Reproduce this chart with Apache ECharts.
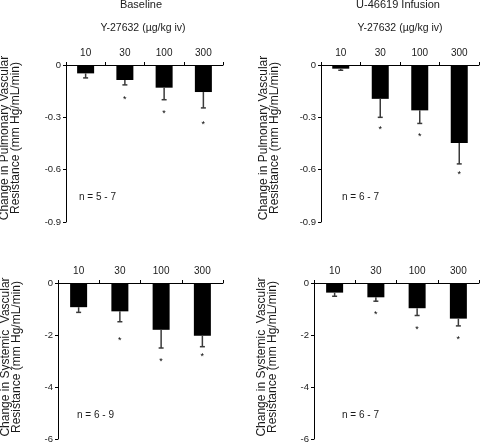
<!DOCTYPE html>
<html>
<head>
<meta charset="utf-8">
<script src="https://cdn.jsdelivr.net/npm/echarts@6/dist/echarts.min.js"></script>
<style>html,body{margin:0;padding:0;background:#fff}#c{width:480px;height:444px}</style>
</head>
<body>
<div id="c"></div>
<script>
const categories = ['10', '30', '100', '300'];
const panelTitles = ['Baseline', 'U-46619 Infusion'];
const drugLabel = 'Y-27632 (µg/kg iv)';
const pvrName = 'Change in Pulmonary Vascular\nResistance (mm Hg/mL/min)';
const svrName = 'Change in Systemic  Vascular\nResistance (mm Hg/mL/min)';

// Pulmonary vascular resistance, baseline
const pvrBaseline = [-0.048, -0.086, -0.130, -0.155];
const pvrBaselineErr = [0.026, 0.028, 0.069, 0.091];
const pvrBaselineStar = [null, -0.187, -0.267, -0.329];
// Pulmonary vascular resistance, U-46619 infusion
const pvrInfusion = [-0.021, -0.194, -0.260, -0.447];
const pvrInfusionErr = [0.009, 0.106, 0.075, 0.120];
const pvrInfusionStar = [null, -0.356, -0.396, -0.619];
// Systemic vascular resistance, baseline
const svrBaseline = [-0.93, -1.09, -1.80, -2.03];
const svrBaselineErr = [0.20, 0.40, 0.70, 0.42];
const svrBaselineStar = [null, -2.14, -2.94, -2.75];
// Systemic vascular resistance, U-46619 infusion
const svrInfusion = [-0.37, -0.55, -0.97, -1.37];
const svrInfusionErr = [0.14, 0.15, 0.28, 0.28];
const svrInfusionStar = [null, -1.13, -1.71, -2.10];

const nLabels = ['n = 5 - 7', 'n = 6 - 7', 'n = 6 - 9', 'n = 6 - 7'];
const pvrTicks = {min: -0.9, max: 0, interval: 0.3};
const svrTicks = {min: -6, max: 0, interval: 2};

const FONT = 'Liberation Sans, Arial, sans-serif';
const TXT = '#1a1a1a';

const panels = [
  {grid: {left: 66, top: 65, width: 157, height: 157}, vals: pvrBaseline, err: pvrBaselineErr, star: pvrBaselineStar, ticks: pvrTicks},
  {grid: {left: 321, top: 65, width: 158, height: 157}, vals: pvrInfusion, err: pvrInfusionErr, star: pvrInfusionStar, ticks: pvrTicks},
  {grid: {left: 58, top: 283, width: 165, height: 157}, vals: svrBaseline, err: svrBaselineErr, star: svrBaselineStar, ticks: svrTicks},
  {grid: {left: 314, top: 283, width: 165, height: 157}, vals: svrInfusion, err: svrInfusionErr, star: svrInfusionStar, ticks: svrTicks}
];

const grids = [], xAxes = [], yAxes = [], series = [];
panels.forEach((p, i) => {
  grids.push(p.grid);
  xAxes.push({
    type: 'category', gridIndex: i, position: 'top', data: categories,
    axisLine: {lineStyle: {color: '#000', width: 1}},
    axisTick: {show: true, length: 3, lineStyle: {color: '#000'}},
    axisLabel: {color: TXT, fontSize: 10, fontFamily: FONT, margin: 7}
  });
  yAxes.push({
    type: 'value', gridIndex: i, min: p.ticks.min, max: p.ticks.max, interval: p.ticks.interval,
    axisLine: {show: true, lineStyle: {color: '#000', width: 1}},
    axisTick: {show: true, length: 3, lineStyle: {color: '#000'}},
    axisLabel: {color: TXT, fontSize: 9.5, fontFamily: FONT, margin: 5},
    splitLine: {show: false}
  });
  series.push({
    type: 'bar', xAxisIndex: i, yAxisIndex: i, data: p.vals, barWidth: 17,
    itemStyle: {color: '#000'}, silent: true, animation: false
  });
  series.push({
    type: 'custom', xAxisIndex: i, yAxisIndex: i, animation: false, silent: true,
    data: p.vals.map((v, k) => [k, v, v - p.err[k]]),
    renderItem: function (params, api) {
      const top = api.coord([api.value(0), api.value(1)]);
      const bot = api.coord([api.value(0), api.value(2)]);
      return {type: 'group', children: [
        {type: 'line', shape: {x1: top[0], y1: top[1], x2: bot[0], y2: bot[1]}, style: {stroke: '#3a3a3a', lineWidth: 1.5}},
        {type: 'line', shape: {x1: bot[0] - 2.5, y1: bot[1], x2: bot[0] + 2.5, y2: bot[1]}, style: {stroke: '#3a3a3a', lineWidth: 1.5}}
      ]};
    },
    z: 3
  });
  series.push({
    type: 'custom', xAxisIndex: i, yAxisIndex: i, animation: false, silent: true,
    data: p.star.map((v, k) => [k, v]).filter(d => d[1] !== null),
    renderItem: function (params, api) {
      const c = api.coord([api.value(0), api.value(1)]);
      return {type: 'text', x: c[0], y: c[1] + 2, style: {text: '*', fontSize: 9, fontFamily: FONT, fill: '#000', align: 'center', verticalAlign: 'middle'}};
    },
    z: 3
  });
});

const graphic = [
  {type: 'text', x: 141, y: 5, style: {text: panelTitles[0], fontSize: 11, fontFamily: FONT, fill: TXT, align: 'center', verticalAlign: 'middle'}},
  {type: 'text', x: 398, y: 5, style: {text: panelTitles[1], fontSize: 11, fontFamily: FONT, fill: TXT, align: 'center', verticalAlign: 'middle'}},
  {type: 'text', x: 143, y: 28, style: {text: drugLabel, fontSize: 10.5, fontFamily: FONT, fill: TXT, align: 'center', verticalAlign: 'middle'}},
  {type: 'text', x: 400, y: 28, style: {text: drugLabel, fontSize: 10.5, fontFamily: FONT, fill: TXT, align: 'center', verticalAlign: 'middle'}},
  {type: 'text', x: 10, y: 138, rotation: Math.PI / 2, style: {text: pvrName, fontSize: 12, lineHeight: 11, fontFamily: FONT, fill: TXT, align: 'center', verticalAlign: 'middle'}},
  {type: 'text', x: 269, y: 138, rotation: Math.PI / 2, style: {text: pvrName, fontSize: 12, lineHeight: 11, fontFamily: FONT, fill: TXT, align: 'center', verticalAlign: 'middle'}},
  {type: 'text', x: 11, y: 357, rotation: Math.PI / 2, style: {text: svrName, fontSize: 12, lineHeight: 11, fontFamily: FONT, fill: TXT, align: 'center', verticalAlign: 'middle'}},
  {type: 'text', x: 267, y: 357, rotation: Math.PI / 2, style: {text: svrName, fontSize: 12, lineHeight: 11, fontFamily: FONT, fill: TXT, align: 'center', verticalAlign: 'middle'}},
  {type: 'text', x: 79, y: 197, style: {text: nLabels[0], fontSize: 10, fontFamily: FONT, fill: TXT, align: 'left', verticalAlign: 'middle'}},
  {type: 'text', x: 342, y: 197, style: {text: nLabels[1], fontSize: 10, fontFamily: FONT, fill: TXT, align: 'left', verticalAlign: 'middle'}},
  {type: 'text', x: 77, y: 415, style: {text: nLabels[2], fontSize: 10, fontFamily: FONT, fill: TXT, align: 'left', verticalAlign: 'middle'}},
  {type: 'text', x: 342, y: 415, style: {text: nLabels[3], fontSize: 10, fontFamily: FONT, fill: TXT, align: 'left', verticalAlign: 'middle'}}
];

const chart = echarts.init(document.getElementById('c'), null, {renderer: 'canvas'});
chart.setOption({animation: false, grid: grids, xAxis: xAxes, yAxis: yAxes, series: series, graphic: graphic});
</script>
</body>
</html>
